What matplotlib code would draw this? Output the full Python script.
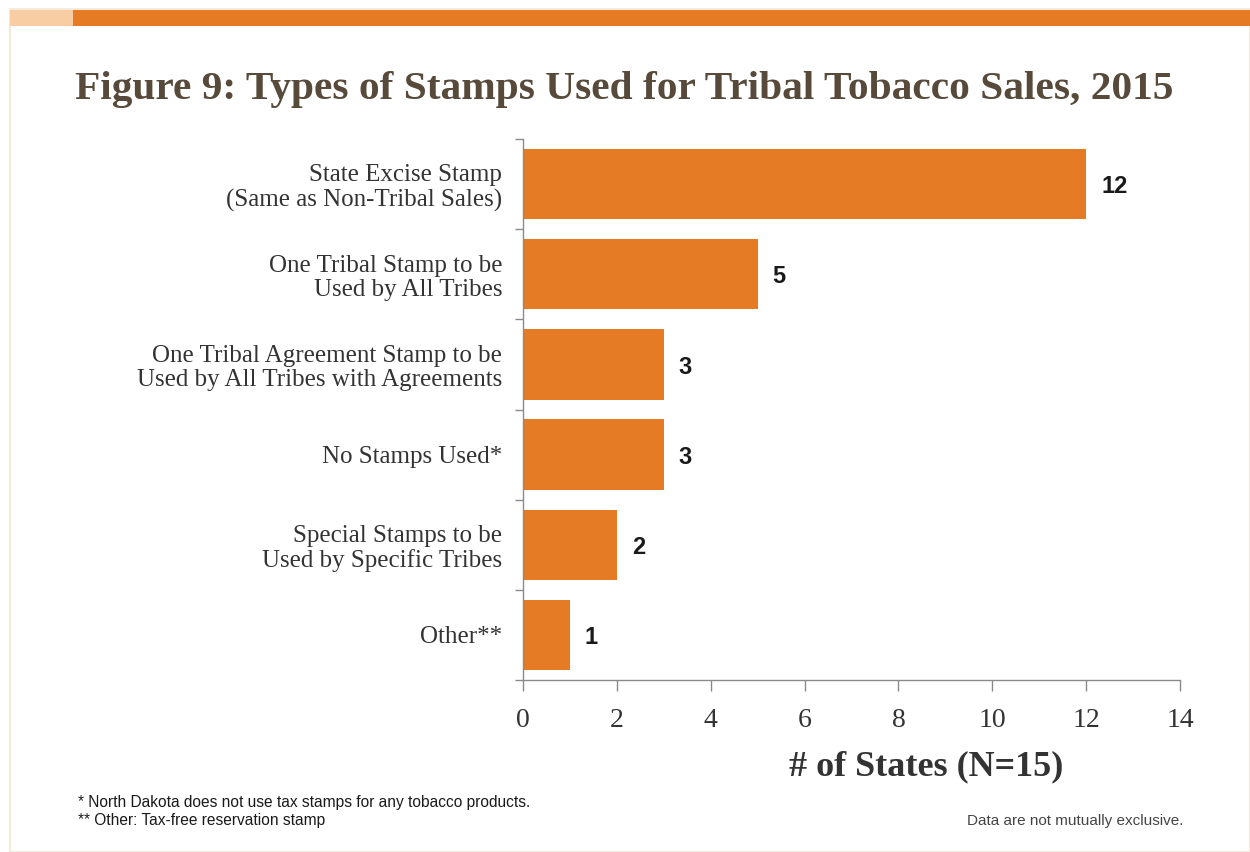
import numpy as np
import matplotlib.pyplot as plt
import matplotlib.patches as mpatches

categories = [
    "State Excise Stamp\n(Same as Non-Tribal Sales)",
    "One Tribal Stamp to be\nUsed by All Tribes",
    "One Tribal Agreement Stamp to be\nUsed by All Tribes with Agreements",
    "No Stamps Used*",
    "Special Stamps to be\nUsed by Specific Tribes",
    "Other**",
]
counts = [12, 5, 3, 3, 2, 1]
x_ticks = [0, 2, 4, 6, 8, 10, 12, 14]

title = "Figure 9: Types of Stamps Used for Tribal Tobacco Sales, 2015"
x_label = "# of States (N=15)"
notes = [
    "* North Dakota does not use tax stamps for any tobacco products.",
    "** Other: Tax-free reservation stamp",
]
right_note = "Data are not mutually exclusive."

ORANGE = "#E57B25"
PEACH = "#F9CDA3"
BROWN = "#584A3A"
TEXT = "#333333"
AXIS = "#8A8A8A"
SERIF = ["Liberation Serif", "DejaVu Serif"]
SANS = ["Liberation Sans", "DejaVu Sans"]

fig = plt.figure(figsize=(12.5, 8.52), dpi=100)

# slide frame and header band
fig.patches.append(mpatches.Rectangle((10 / 1250, 0), 1 - 10 / 1250, 1 - 9 / 852,
                                      transform=fig.transFigure, fill=False,
                                      edgecolor="#F3EADB", linewidth=1.5))
fig.patches.append(mpatches.Rectangle((10 / 1250, 1 - 26 / 852), 63 / 1250, 16 / 852,
                                      transform=fig.transFigure, color=PEACH, linewidth=0))
fig.patches.append(mpatches.Rectangle((73 / 1250, 1 - 26 / 852), 1 - 73 / 1250, 16 / 852,
                                      transform=fig.transFigure, color=ORANGE, linewidth=0))

fig.text(75 / 1250, 1 - 99 / 852, title, family=SERIF, fontsize=29.8, fontweight="bold",
         color=BROWN, ha="left", va="baseline")

ax = fig.add_axes([523 / 1250, 1 - 680 / 852, 657 / 1250, 541 / 852])
y = np.arange(len(categories))
ax.barh(y, counts, height=0.78, color=ORANGE, edgecolor="none")
ax.set_ylim(len(categories) - 0.5, -0.5)
ax.set_xlim(0, 14)

for yi, v in zip(y, counts):
    ax.text(v + 0.32, yi + 0.03, str(v), family=SANS, fontsize=17, fontweight="bold",
            color="#1a1a1a", ha="left", va="center")

ax.set_xticks(x_ticks)
ax.set_xticklabels([str(t) for t in x_ticks], family=SERIF, fontsize=20, color=TEXT)
ax.set_yticks(np.arange(len(categories) + 1) - 0.5, minor=False)
ax.set_yticklabels([])
ax.set_yticks(y, minor=True)
ax.set_yticklabels(categories, minor=True, family=SERIF, fontsize=18, color=TEXT,
                   linespacing=1.15)
ax.tick_params(axis="y", which="minor", length=0, pad=15)
ax.tick_params(axis="y", which="major", length=6, color=AXIS, width=1)
ax.tick_params(axis="x", length=8, color=AXIS, width=1, pad=12)

for s in ["top", "right"]:
    ax.spines[s].set_visible(False)
for s in ["left", "bottom"]:
    ax.spines[s].set_color(AXIS)
    ax.spines[s].set_linewidth(1)

ax.set_xlabel(x_label, family=SERIF, fontsize=26, fontweight="bold", color=TEXT)
ax.xaxis.set_label_coords((926 - 523) / 657, -(767 - 680) / 541)
ax.xaxis.label.set_va("center")

fig.text(78 / 1250, 1 - 807 / 852, notes[0], family=SANS, fontsize=11.2, color="#1a1a1a",
         ha="left", va="baseline")
fig.text(78 / 1250, 1 - 825 / 852, notes[1], family=SANS, fontsize=11.2, color="#1a1a1a",
         ha="left", va="baseline")
fig.text(1183 / 1250, 1 - 825 / 852, right_note, family=SANS, fontsize=11, color="#444444",
         ha="right", va="baseline")

fig.savefig("out.png", dpi=100, facecolor="white")
